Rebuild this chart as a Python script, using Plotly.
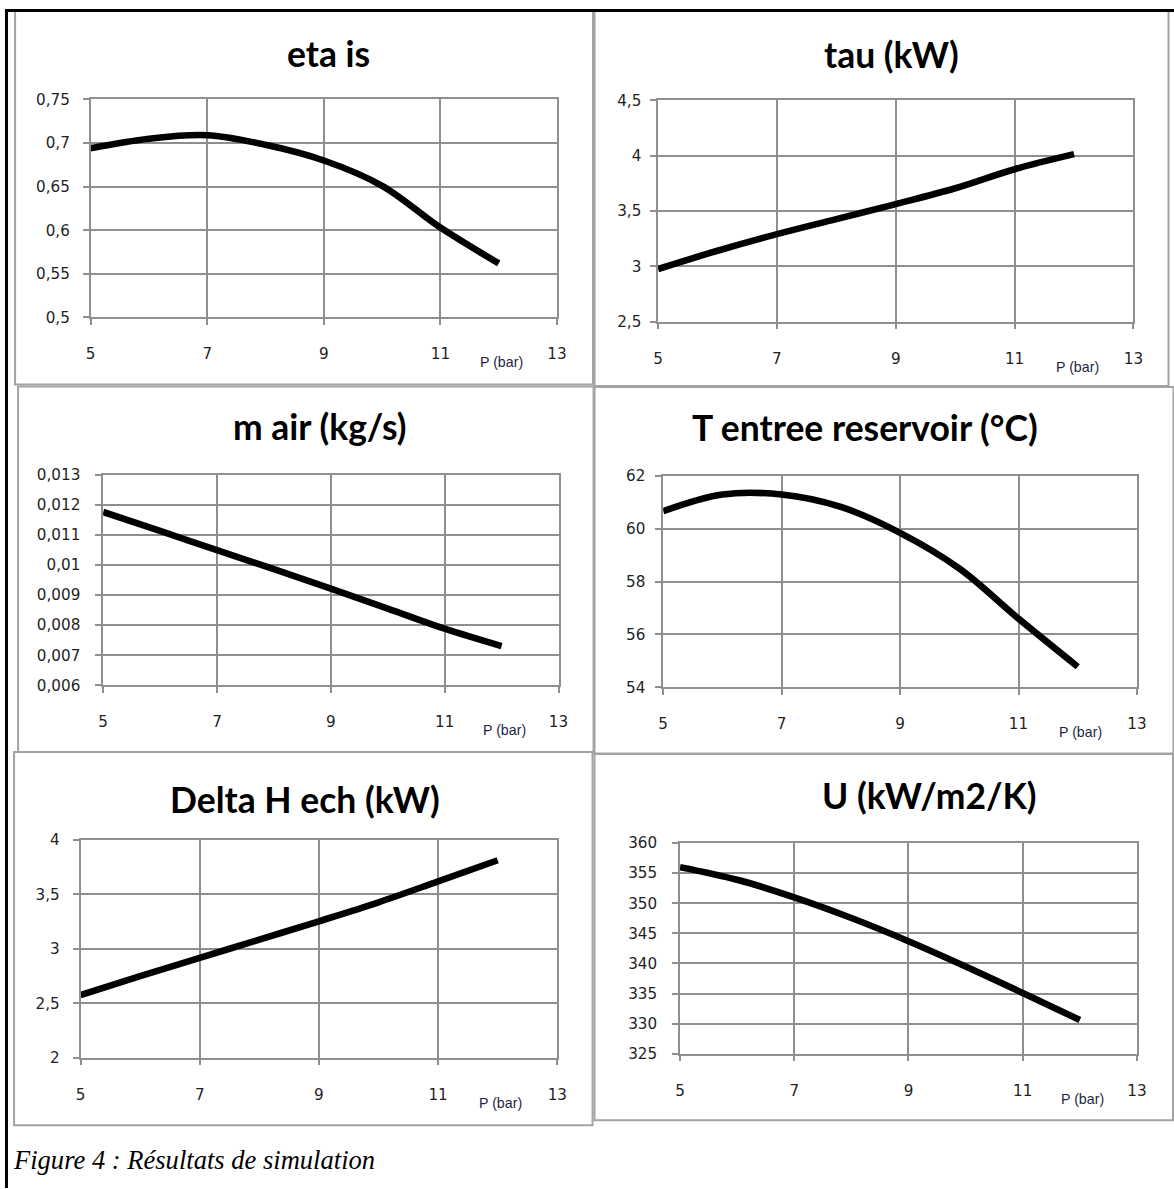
import plotly.graph_objects as go

# The page is photographed through a small fixed offset and a slight down-scale
# (about 1174/1190); positions below are given in reference-picture pixels and
# converted to figure pixels by px()/py().
S = 1190 / 1174
OFFX, OFFY = 5, 8
W, H = 1185, 1197

# ---------------- data ----------------
pressure = [5, 6, 7, 8, 9, 10, 11, 12]
eta_is = [0.694, 0.705, 0.709, 0.698, 0.680, 0.651, 0.603, 0.562]
tau_kw = [2.975, 3.14, 3.29, 3.426, 3.562, 3.705, 3.877, 4.013]
m_air = [0.01176, 0.01113, 0.01049, 0.00986, 0.00921, 0.00855, 0.00788, 0.0073]
t_entree = [60.67, 61.3, 61.3, 60.83, 59.85, 58.5, 56.6, 54.78]
delta_h = [2.575, 2.748, 2.916, 3.084, 3.252, 3.426, 3.618, 3.812]
u_coef = [356.0, 353.9, 350.98, 347.55, 343.7, 339.5, 335.1, 330.6]

titles = ["eta is", "tau (kW)", "m air (kg/s)", "T entree reservoir (°C)",
          "Delta H ech (kW)", "U (kW/m2/K)"]

x_tickvals = [5, 7, 9, 11, 13]
x_ticktext = ["5", "7", "9", "11", "13"]

eta_ticks = [0.5, 0.55, 0.6, 0.65, 0.7, 0.75]
eta_labels = ["0,5", "0,55", "0,6", "0,65", "0,7", "0,75"]
tau_ticks = [2.5, 3, 3.5, 4, 4.5]
tau_labels = ["2,5", "3", "3,5", "4", "4,5"]
mair_ticks = [0.006, 0.007, 0.008, 0.009, 0.010, 0.011, 0.012, 0.013]
mair_labels = ["0,006", "0,007", "0,008", "0,009", "0,01", "0,011", "0,012", "0,013"]
t_ticks = [54, 56, 58, 60, 62]
t_labels = ["54", "56", "58", "60", "62"]
dh_ticks = [2, 2.5, 3, 3.5, 4]
dh_labels = ["2", "2,5", "3", "3,5", "4"]
u_ticks = [325, 330, 335, 340, 345, 350, 355, 360]
u_labels = ["325", "330", "335", "340", "345", "350", "355", "360"]

caption = "Figure 4 : Résultats de simulation"
x_unit = "P (bar)"

# ---------------- layout geometry (reference pixels) ----------------
def px(x):
    return (x * S - OFFX) / W

def py(y):
    return 1 - (y * S - OFFY) / H

def sz(v):
    return v * S

# plot area (x0, x1, ytop, ybottom)
areas = [
    (90.5, 556.5, 98.5, 316.8),
    (657.5, 1132.5, 99.3, 321.0),
    (103.0, 558.0, 474.3, 685.3),
    (662.6, 1136.0, 475.7, 687.3),
    (80.4, 556.8, 840.0, 1058.3),
    (679.4, 1136.0, 843.3, 1054.3),
]
# panel frames (x0, y0, x1, y1)
frames = [
    (15, 10, 592.5, 384),
    (594, 10, 1167.5, 385.5),
    (18, 386, 593, 752),
    (594, 386.5, 1172.5, 753.5),
    (14, 752, 592, 1126),
    (594, 754, 1172, 1121),
]
# title centres (x, y)
title_pos = [(328.5, 52.5), (891, 53.5), (319.5, 426.5), (864, 427.5), (305, 799.5), (929, 795.5)]

series = [eta_is, tau_kw, m_air, t_entree, delta_h, u_coef]
yticks = [(eta_ticks, eta_labels), (tau_ticks, tau_labels), (mair_ticks, mair_labels),
          (t_ticks, t_labels), (dh_ticks, dh_labels), (u_ticks, u_labels)]
y_standoff = [10, 6, 12, 7, 10, 12]

GRID = "#8f8f8f"
TICKFONT = dict(family="DejaVu Sans", size=sz(15), color="#1f1f1f")

fig = go.Figure()
layout = dict(
    width=W, height=H, margin=dict(l=0, r=0, t=0, b=0),
    paper_bgcolor="white", plot_bgcolor="white", showlegend=False,
    separators=", ",
)
annotations = []
shapes = []

for i in range(6):
    n = "" if i == 0 else str(i + 1)
    x0, x1, yt, yb = areas[i]
    tv, tt = yticks[i]
    fig.add_trace(go.Scatter(
        x=pressure, y=series[i], mode="lines",
        line=dict(color="black", width=sz(6.5), shape="spline", smoothing=1.0),
        xaxis="x" + n, yaxis="y" + n, hoverinfo="skip",
    ))
    layout["xaxis" + n] = dict(
        domain=[px(x0), px(x1)], anchor="y" + n, range=[5, 13],
        tickvals=x_tickvals, ticktext=x_ticktext, tickfont=TICKFONT,
        showgrid=True, gridcolor=GRID, gridwidth=1.5,
        showline=True, linecolor=GRID, linewidth=1.5, mirror=True,
        ticks="outside", ticklen=6, tickcolor=GRID, tickwidth=1.5,
        ticklabelstandoff=16, zeroline=False, fixedrange=True,
    )
    layout["yaxis" + n] = dict(
        domain=[py(yb), py(yt)], anchor="x" + n, range=[tv[0], tv[-1]],
        tickvals=tv, ticktext=tt, tickfont=TICKFONT,
        showgrid=True, gridcolor=GRID, gridwidth=1.5,
        showline=True, linecolor=GRID, linewidth=1.5, mirror=True,
        ticks="outside", ticklen=6, tickcolor=GRID, tickwidth=1.5,
        ticklabelstandoff=y_standoff[i], zeroline=False, fixedrange=True,
    )
    # title
    tx, ty = title_pos[i]
    annotations.append(dict(
        text=titles[i], x=px(tx), y=py(ty), xref="paper", yref="paper",
        xanchor="center", yanchor="middle", showarrow=False,
        font=dict(family="Lato", size=sz(35), color="black", weight="bold"),
    ))
    # x unit label
    annotations.append(dict(
        text=x_unit, x=12.05, xref="x" + n, y=py(yb + 45), yref="paper",
        xanchor="center", yanchor="middle", showarrow=False,
        font=dict(family="Liberation Sans", size=sz(14), color="#1f1f3f"),
    ))
    fx0, fy0, fx1, fy1 = frames[i]
    shapes.append(dict(type="rect", xref="paper", yref="paper",
                       x0=px(fx0), x1=px(fx1), y0=py(fy0), y1=py(fy1),
                       line=dict(color="#a3a3a3", width=2), layer="below"))

# outer black frame (top and left edges visible)
shapes.append(dict(type="line", xref="paper", yref="paper",
                   x0=0, x1=1, y0=1 - 1.5 / H, y1=1 - 1.5 / H,
                   line=dict(color="black", width=3)))
shapes.append(dict(type="line", xref="paper", yref="paper",
                   x0=1.5 / W, x1=1.5 / W, y0=1, y1=0,
                   line=dict(color="black", width=3)))

annotations.append(dict(
    text=caption, x=px(11), y=py(1161), xref="paper", yref="paper",
    xanchor="left", yanchor="middle", showarrow=False,
    font=dict(family="Liberation Serif", size=sz(26.2), color="black", style="italic"),
))

layout["annotations"] = annotations
layout["shapes"] = shapes
fig.update_layout(**layout)

fig.write_html("out.html", config={"displayModeBar": False},
               post_script="document.body.style.margin='0';document.documentElement.style.overflow='hidden';")
